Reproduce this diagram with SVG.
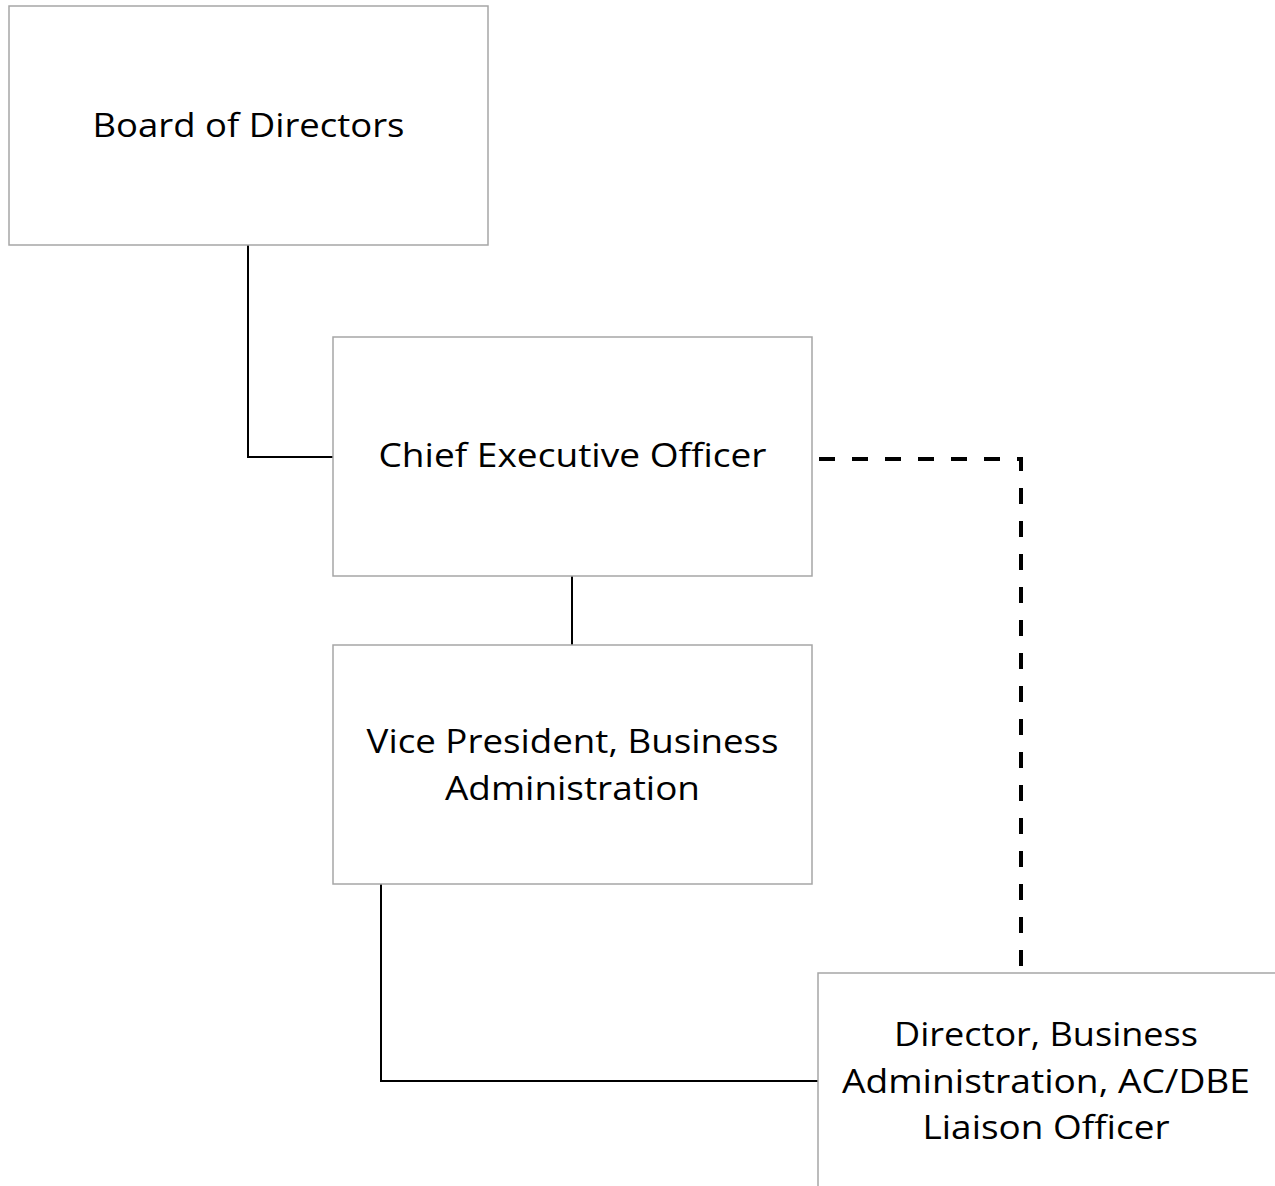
<svg xmlns="http://www.w3.org/2000/svg" width="1275" height="1186" viewBox="0 0 1275 1186">
<style>
.box{fill:#fff;stroke:#a6a6a6;stroke-width:1.5}
.lbl{font-family:"Open Sans","Liberation Sans",sans-serif;font-size:32px;fill:#000;text-anchor:middle}
.solid{fill:none;stroke:#000;stroke-width:2}
.dash{fill:none;stroke:#000;stroke-width:4;stroke-dasharray:16 17}
</style>
<rect width="1275" height="1186" fill="#fff"/>
<g id="connectors">
<path class="solid" d="M248 245 V457 H333"/>
<path class="solid" d="M572 576 V645"/>
<path class="solid" d="M381 884 V1081 H818"/>
<path class="dash" d="M819 459 H1021 V966"/>
</g>
<g id="board">
<rect class="box" x="9" y="6" width="479" height="239"/>
<text class="lbl" x="248.5" y="137" textLength="312" lengthAdjust="spacingAndGlyphs">Board of Directors</text>
</g>
<g id="ceo">
<rect class="box" x="333" y="337" width="479" height="239"/>
<text class="lbl" x="572.5" y="467" textLength="388" lengthAdjust="spacingAndGlyphs">Chief Executive Officer</text>
</g>
<g id="vp">
<rect class="box" x="333" y="645" width="479" height="239"/>
<text class="lbl" x="572.5" y="753" textLength="412" lengthAdjust="spacingAndGlyphs">Vice President, Business</text>
<text class="lbl" x="572.5" y="800" textLength="255" lengthAdjust="spacingAndGlyphs">Administration</text>
</g>
<g id="director">
<path class="box" d="M1275 973 H818 V1190"/>
<text class="lbl" x="1046" y="1046" textLength="304" lengthAdjust="spacingAndGlyphs">Director, Business</text>
<text class="lbl" x="1046" y="1093" textLength="408" lengthAdjust="spacingAndGlyphs">Administration, AC/DBE</text>
<text class="lbl" x="1046" y="1139" textLength="247" lengthAdjust="spacingAndGlyphs">Liaison Officer</text>
</g>
</svg>
